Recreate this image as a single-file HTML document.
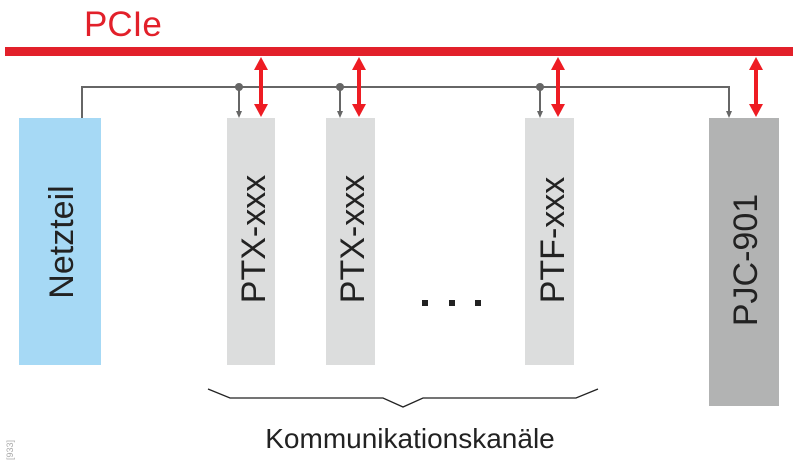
<!DOCTYPE html>
<html><head><meta charset="utf-8"><style>
html,body{margin:0;padding:0;background:#fff;}
svg{display:block;}
text{font-family:"Liberation Sans",Arial,sans-serif;}
</style></head><body>
<svg width="800" height="465" viewBox="0 0 800 465" xmlns="http://www.w3.org/2000/svg">
<text x="84" y="36" font-size="35" fill="#e2202a">PCIe</text>
<rect x="5" y="47" width="788" height="9" fill="#e2202a"/>
<!-- boxes -->
<rect x="19" y="118" width="82" height="247" fill="#a6d9f5"/>
<rect x="227" y="118" width="48" height="247" fill="#dcdddd"/>
<rect x="326" y="118" width="49" height="247" fill="#dcdddd"/>
<rect x="525" y="118" width="49" height="247" fill="#dcdddd"/>
<rect x="709" y="118" width="70" height="288" fill="#b2b3b3"/>
<!-- gray bus -->
<polyline points="82,118 82,87 729,87 729,112" fill="none" stroke="#666" stroke-width="2"/>
<path d="M726,111 L732,111 L729,118z" fill="#666"/>
<g fill="#666">
<circle cx="239" cy="87" r="4"/><circle cx="340" cy="87" r="4"/><circle cx="540" cy="87" r="4"/>
</g>
<g stroke="#666" stroke-width="2">
<line x1="239" y1="87" x2="239" y2="112"/><line x1="340" y1="87" x2="340" y2="112"/><line x1="540" y1="87" x2="540" y2="112"/>
</g>
<g fill="#666">
<path d="M236,111 L242,111 L239,118z"/><path d="M337,111 L343,111 L340,118z"/><path d="M537,111 L543,111 L540,118z"/>
</g>
<!-- red double arrows -->
<g fill="#ee1c23">
<path d="M261,57 L268,70 L263,70 L263,104 L268,104 L261,117 L254,104 L259,104 L259,70 L254,70z"/>
<path d="M359,57 L366,70 L361,70 L361,104 L366,104 L359,117 L352,104 L357,104 L357,70 L352,70z"/>
<path d="M558,57 L565,70 L560,70 L560,104 L565,104 L558,117 L551,104 L556,104 L556,70 L551,70z"/>
<path d="M756,57 L763,70 L758,70 L758,104 L763,104 L756,117 L749,104 L754,104 L754,70 L749,70z"/>
</g>
<!-- labels -->
<g font-size="34" fill="#222" text-anchor="middle">
<text transform="translate(73,242) rotate(-90)">Netzteil</text>
<text transform="translate(265,239) rotate(-90)">PTX-xxx</text>
<text transform="translate(364,239) rotate(-90)">PTX-xxx</text>
<text transform="translate(564,240) rotate(-90)">PTF-xxx</text>
<text transform="translate(757,260) rotate(-90)">PJC-901</text>
</g>
<g fill="#222">
<rect x="422" y="300" width="6" height="6"/><rect x="449" y="300" width="6" height="6"/><rect x="475" y="300" width="6" height="6"/>
</g>
<polyline points="208,389 230,398 383,398 403,407 423,398 576,398 598,389" fill="none" stroke="#222" stroke-width="1.3"/>
<text x="410" y="448" font-size="28" fill="#222" text-anchor="middle">Kommunikationskanäle</text>
<text transform="translate(13,450) rotate(-90)" font-size="9" fill="#aaa" text-anchor="middle">[933]</text>
</svg>
</body></html>
